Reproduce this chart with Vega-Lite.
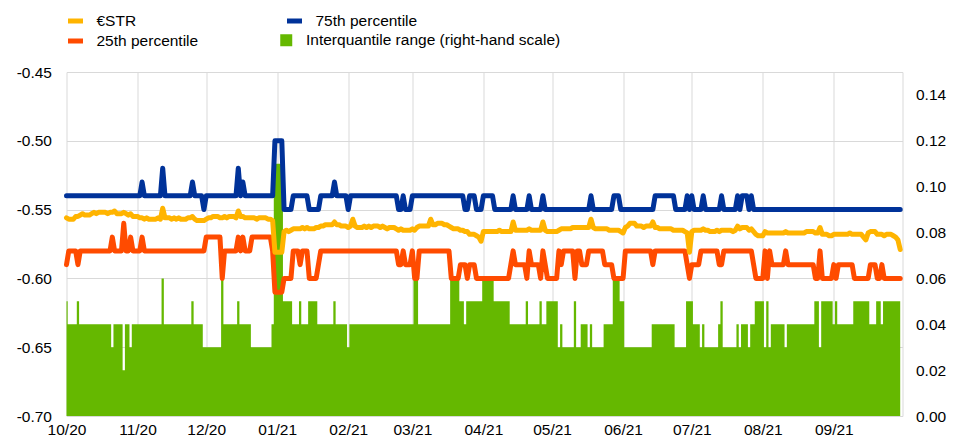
{
"$schema": "https://vega.github.io/schema/vega-lite/v6.json",
"width": 836, "height": 344,
"autosize": {"type": "none"},
"padding": {"left": 66.5, "top": 72, "right": 59.5, "bottom": 29},
"config": {"view": {"stroke": null}, "font": "Liberation Sans",
  "axis": {"labelFont": "Liberation Sans", "labelFontSize": 15.5, "labelColor": "#000000", "ticks": false, "domain": false, "title": null, "gridColor": "#d9d9d9", "gridWidth": 1},
  "legend": {"labelFont": "Liberation Sans", "labelFontSize": 15.5, "labelColor": "#000000", "labelLimit": 0, "padding": 0}},
"data": {"values": [
{"d":"2020-10-01","e":-0.556,"lo":-0.59,"hi":-0.54,"r":0.05},
{"d":"2020-10-02","e":-0.557,"lo":-0.58,"hi":-0.54,"r":0.04},
{"d":"2020-10-03","e":-0.557,"lo":-0.58,"hi":-0.54,"r":0.04},
{"d":"2020-10-04","e":-0.557,"lo":-0.58,"hi":-0.54,"r":0.04},
{"d":"2020-10-05","e":-0.555,"lo":-0.58,"hi":-0.54,"r":0.04},
{"d":"2020-10-06","e":-0.555,"lo":-0.59,"hi":-0.54,"r":0.05},
{"d":"2020-10-07","e":-0.554,"lo":-0.58,"hi":-0.54,"r":0.04},
{"d":"2020-10-08","e":-0.553,"lo":-0.58,"hi":-0.54,"r":0.04},
{"d":"2020-10-09","e":-0.554,"lo":-0.58,"hi":-0.54,"r":0.04},
{"d":"2020-10-10","e":-0.554,"lo":-0.58,"hi":-0.54,"r":0.04},
{"d":"2020-10-11","e":-0.554,"lo":-0.58,"hi":-0.54,"r":0.04},
{"d":"2020-10-12","e":-0.553,"lo":-0.58,"hi":-0.54,"r":0.04},
{"d":"2020-10-13","e":-0.552,"lo":-0.58,"hi":-0.54,"r":0.04},
{"d":"2020-10-14","e":-0.553,"lo":-0.58,"hi":-0.54,"r":0.04},
{"d":"2020-10-15","e":-0.552,"lo":-0.58,"hi":-0.54,"r":0.04},
{"d":"2020-10-16","e":-0.552,"lo":-0.58,"hi":-0.54,"r":0.04},
{"d":"2020-10-17","e":-0.552,"lo":-0.58,"hi":-0.54,"r":0.04},
{"d":"2020-10-18","e":-0.552,"lo":-0.58,"hi":-0.54,"r":0.04},
{"d":"2020-10-19","e":-0.553,"lo":-0.58,"hi":-0.54,"r":0.04},
{"d":"2020-10-20","e":-0.552,"lo":-0.58,"hi":-0.54,"r":0.04},
{"d":"2020-10-21","e":-0.552,"lo":-0.57,"hi":-0.54,"r":0.03},
{"d":"2020-10-22","e":-0.551,"lo":-0.58,"hi":-0.54,"r":0.04},
{"d":"2020-10-23","e":-0.553,"lo":-0.58,"hi":-0.54,"r":0.04},
{"d":"2020-10-24","e":-0.553,"lo":-0.58,"hi":-0.54,"r":0.04},
{"d":"2020-10-25","e":-0.553,"lo":-0.58,"hi":-0.54,"r":0.04},
{"d":"2020-10-26","e":-0.552,"lo":-0.56,"hi":-0.54,"r":0.02},
{"d":"2020-10-27","e":-0.553,"lo":-0.58,"hi":-0.54,"r":0.04},
{"d":"2020-10-28","e":-0.554,"lo":-0.58,"hi":-0.54,"r":0.04},
{"d":"2020-10-29","e":-0.553,"lo":-0.57,"hi":-0.54,"r":0.03},
{"d":"2020-10-30","e":-0.555,"lo":-0.58,"hi":-0.54,"r":0.04},
{"d":"2020-10-31","e":-0.555,"lo":-0.58,"hi":-0.54,"r":0.04},
{"d":"2020-11-01","e":-0.555,"lo":-0.58,"hi":-0.54,"r":0.04},
{"d":"2020-11-02","e":-0.556,"lo":-0.58,"hi":-0.54,"r":0.04},
{"d":"2020-11-03","e":-0.556,"lo":-0.57,"hi":-0.53,"r":0.04},
{"d":"2020-11-04","e":-0.557,"lo":-0.58,"hi":-0.54,"r":0.04},
{"d":"2020-11-05","e":-0.556,"lo":-0.58,"hi":-0.54,"r":0.04},
{"d":"2020-11-06","e":-0.557,"lo":-0.58,"hi":-0.54,"r":0.04},
{"d":"2020-11-07","e":-0.557,"lo":-0.58,"hi":-0.54,"r":0.04},
{"d":"2020-11-08","e":-0.557,"lo":-0.58,"hi":-0.54,"r":0.04},
{"d":"2020-11-09","e":-0.557,"lo":-0.58,"hi":-0.54,"r":0.04},
{"d":"2020-11-10","e":-0.556,"lo":-0.58,"hi":-0.54,"r":0.04},
{"d":"2020-11-11","e":-0.557,"lo":-0.58,"hi":-0.54,"r":0.04},
{"d":"2020-11-12","e":-0.549,"lo":-0.58,"hi":-0.52,"r":0.06},
{"d":"2020-11-13","e":-0.556,"lo":-0.58,"hi":-0.54,"r":0.04},
{"d":"2020-11-14","e":-0.556,"lo":-0.58,"hi":-0.54,"r":0.04},
{"d":"2020-11-15","e":-0.556,"lo":-0.58,"hi":-0.54,"r":0.04},
{"d":"2020-11-16","e":-0.557,"lo":-0.58,"hi":-0.54,"r":0.04},
{"d":"2020-11-17","e":-0.556,"lo":-0.58,"hi":-0.54,"r":0.04},
{"d":"2020-11-18","e":-0.557,"lo":-0.58,"hi":-0.54,"r":0.04},
{"d":"2020-11-19","e":-0.556,"lo":-0.58,"hi":-0.54,"r":0.04},
{"d":"2020-11-20","e":-0.557,"lo":-0.58,"hi":-0.54,"r":0.04},
{"d":"2020-11-21","e":-0.557,"lo":-0.58,"hi":-0.54,"r":0.04},
{"d":"2020-11-22","e":-0.557,"lo":-0.58,"hi":-0.54,"r":0.04},
{"d":"2020-11-23","e":-0.556,"lo":-0.58,"hi":-0.54,"r":0.04},
{"d":"2020-11-24","e":-0.556,"lo":-0.58,"hi":-0.54,"r":0.04},
{"d":"2020-11-25","e":-0.555,"lo":-0.58,"hi":-0.53,"r":0.05},
{"d":"2020-11-26","e":-0.557,"lo":-0.58,"hi":-0.54,"r":0.04},
{"d":"2020-11-27","e":-0.558,"lo":-0.58,"hi":-0.54,"r":0.04},
{"d":"2020-11-28","e":-0.558,"lo":-0.58,"hi":-0.54,"r":0.04},
{"d":"2020-11-29","e":-0.558,"lo":-0.58,"hi":-0.54,"r":0.04},
{"d":"2020-11-30","e":-0.558,"lo":-0.58,"hi":-0.55,"r":0.03},
{"d":"2020-12-01","e":-0.557,"lo":-0.57,"hi":-0.54,"r":0.03},
{"d":"2020-12-02","e":-0.556,"lo":-0.57,"hi":-0.54,"r":0.03},
{"d":"2020-12-03","e":-0.556,"lo":-0.57,"hi":-0.54,"r":0.03},
{"d":"2020-12-04","e":-0.555,"lo":-0.57,"hi":-0.54,"r":0.03},
{"d":"2020-12-05","e":-0.555,"lo":-0.57,"hi":-0.54,"r":0.03},
{"d":"2020-12-06","e":-0.555,"lo":-0.57,"hi":-0.54,"r":0.03},
{"d":"2020-12-07","e":-0.556,"lo":-0.57,"hi":-0.54,"r":0.03},
{"d":"2020-12-08","e":-0.556,"lo":-0.60,"hi":-0.54,"r":0.06},
{"d":"2020-12-09","e":-0.555,"lo":-0.58,"hi":-0.54,"r":0.04},
{"d":"2020-12-10","e":-0.556,"lo":-0.58,"hi":-0.54,"r":0.04},
{"d":"2020-12-11","e":-0.555,"lo":-0.58,"hi":-0.54,"r":0.04},
{"d":"2020-12-12","e":-0.555,"lo":-0.58,"hi":-0.54,"r":0.04},
{"d":"2020-12-13","e":-0.555,"lo":-0.58,"hi":-0.54,"r":0.04},
{"d":"2020-12-14","e":-0.556,"lo":-0.58,"hi":-0.54,"r":0.04},
{"d":"2020-12-15","e":-0.551,"lo":-0.57,"hi":-0.52,"r":0.05},
{"d":"2020-12-16","e":-0.555,"lo":-0.58,"hi":-0.54,"r":0.04},
{"d":"2020-12-17","e":-0.555,"lo":-0.57,"hi":-0.53,"r":0.04},
{"d":"2020-12-18","e":-0.556,"lo":-0.58,"hi":-0.54,"r":0.04},
{"d":"2020-12-19","e":-0.556,"lo":-0.58,"hi":-0.54,"r":0.04},
{"d":"2020-12-20","e":-0.556,"lo":-0.58,"hi":-0.54,"r":0.04},
{"d":"2020-12-21","e":-0.556,"lo":-0.57,"hi":-0.54,"r":0.03},
{"d":"2020-12-22","e":-0.556,"lo":-0.57,"hi":-0.54,"r":0.03},
{"d":"2020-12-23","e":-0.557,"lo":-0.57,"hi":-0.54,"r":0.03},
{"d":"2020-12-24","e":-0.556,"lo":-0.57,"hi":-0.54,"r":0.03},
{"d":"2020-12-25","e":-0.556,"lo":-0.57,"hi":-0.54,"r":0.03},
{"d":"2020-12-26","e":-0.556,"lo":-0.57,"hi":-0.54,"r":0.03},
{"d":"2020-12-27","e":-0.556,"lo":-0.57,"hi":-0.54,"r":0.03},
{"d":"2020-12-28","e":-0.557,"lo":-0.57,"hi":-0.54,"r":0.03},
{"d":"2020-12-29","e":-0.557,"lo":-0.57,"hi":-0.54,"r":0.03},
{"d":"2020-12-30","e":-0.558,"lo":-0.58,"hi":-0.54,"r":0.04},
{"d":"2020-12-31","e":-0.581,"lo":-0.61,"hi":-0.50,"r":0.11},
{"d":"2021-01-01","e":-0.581,"lo":-0.61,"hi":-0.50,"r":0.11},
{"d":"2021-01-02","e":-0.581,"lo":-0.61,"hi":-0.50,"r":0.11},
{"d":"2021-01-03","e":-0.581,"lo":-0.61,"hi":-0.50,"r":0.11},
{"d":"2021-01-04","e":-0.566,"lo":-0.60,"hi":-0.55,"r":0.05},
{"d":"2021-01-05","e":-0.565,"lo":-0.60,"hi":-0.55,"r":0.05},
{"d":"2021-01-06","e":-0.566,"lo":-0.60,"hi":-0.55,"r":0.05},
{"d":"2021-01-07","e":-0.565,"lo":-0.60,"hi":-0.55,"r":0.05},
{"d":"2021-01-08","e":-0.564,"lo":-0.58,"hi":-0.54,"r":0.04},
{"d":"2021-01-09","e":-0.564,"lo":-0.58,"hi":-0.54,"r":0.04},
{"d":"2021-01-10","e":-0.564,"lo":-0.58,"hi":-0.54,"r":0.04},
{"d":"2021-01-11","e":-0.564,"lo":-0.59,"hi":-0.54,"r":0.05},
{"d":"2021-01-12","e":-0.563,"lo":-0.58,"hi":-0.54,"r":0.04},
{"d":"2021-01-13","e":-0.564,"lo":-0.58,"hi":-0.54,"r":0.04},
{"d":"2021-01-14","e":-0.563,"lo":-0.58,"hi":-0.54,"r":0.04},
{"d":"2021-01-15","e":-0.564,"lo":-0.60,"hi":-0.55,"r":0.05},
{"d":"2021-01-16","e":-0.564,"lo":-0.60,"hi":-0.55,"r":0.05},
{"d":"2021-01-17","e":-0.564,"lo":-0.60,"hi":-0.55,"r":0.05},
{"d":"2021-01-18","e":-0.563,"lo":-0.60,"hi":-0.55,"r":0.05},
{"d":"2021-01-19","e":-0.563,"lo":-0.59,"hi":-0.55,"r":0.04},
{"d":"2021-01-20","e":-0.562,"lo":-0.58,"hi":-0.54,"r":0.04},
{"d":"2021-01-21","e":-0.562,"lo":-0.58,"hi":-0.54,"r":0.04},
{"d":"2021-01-22","e":-0.561,"lo":-0.58,"hi":-0.54,"r":0.04},
{"d":"2021-01-23","e":-0.561,"lo":-0.58,"hi":-0.54,"r":0.04},
{"d":"2021-01-24","e":-0.561,"lo":-0.58,"hi":-0.54,"r":0.04},
{"d":"2021-01-25","e":-0.561,"lo":-0.58,"hi":-0.54,"r":0.04},
{"d":"2021-01-26","e":-0.559,"lo":-0.58,"hi":-0.53,"r":0.05},
{"d":"2021-01-27","e":-0.561,"lo":-0.58,"hi":-0.54,"r":0.04},
{"d":"2021-01-28","e":-0.561,"lo":-0.58,"hi":-0.54,"r":0.04},
{"d":"2021-01-29","e":-0.562,"lo":-0.58,"hi":-0.54,"r":0.04},
{"d":"2021-01-30","e":-0.562,"lo":-0.58,"hi":-0.54,"r":0.04},
{"d":"2021-01-31","e":-0.562,"lo":-0.58,"hi":-0.54,"r":0.04},
{"d":"2021-02-01","e":-0.563,"lo":-0.58,"hi":-0.55,"r":0.03},
{"d":"2021-02-02","e":-0.562,"lo":-0.58,"hi":-0.54,"r":0.04},
{"d":"2021-02-03","e":-0.557,"lo":-0.58,"hi":-0.54,"r":0.04},
{"d":"2021-02-04","e":-0.562,"lo":-0.58,"hi":-0.54,"r":0.04},
{"d":"2021-02-05","e":-0.563,"lo":-0.58,"hi":-0.54,"r":0.04},
{"d":"2021-02-06","e":-0.563,"lo":-0.58,"hi":-0.54,"r":0.04},
{"d":"2021-02-07","e":-0.563,"lo":-0.58,"hi":-0.54,"r":0.04},
{"d":"2021-02-08","e":-0.562,"lo":-0.58,"hi":-0.54,"r":0.04},
{"d":"2021-02-09","e":-0.563,"lo":-0.58,"hi":-0.54,"r":0.04},
{"d":"2021-02-10","e":-0.562,"lo":-0.58,"hi":-0.54,"r":0.04},
{"d":"2021-02-11","e":-0.563,"lo":-0.58,"hi":-0.54,"r":0.04},
{"d":"2021-02-12","e":-0.562,"lo":-0.58,"hi":-0.54,"r":0.04},
{"d":"2021-02-13","e":-0.562,"lo":-0.58,"hi":-0.54,"r":0.04},
{"d":"2021-02-14","e":-0.562,"lo":-0.58,"hi":-0.54,"r":0.04},
{"d":"2021-02-15","e":-0.563,"lo":-0.58,"hi":-0.54,"r":0.04},
{"d":"2021-02-16","e":-0.562,"lo":-0.58,"hi":-0.54,"r":0.04},
{"d":"2021-02-17","e":-0.563,"lo":-0.58,"hi":-0.54,"r":0.04},
{"d":"2021-02-18","e":-0.564,"lo":-0.58,"hi":-0.54,"r":0.04},
{"d":"2021-02-19","e":-0.563,"lo":-0.58,"hi":-0.54,"r":0.04},
{"d":"2021-02-20","e":-0.563,"lo":-0.58,"hi":-0.54,"r":0.04},
{"d":"2021-02-21","e":-0.563,"lo":-0.58,"hi":-0.54,"r":0.04},
{"d":"2021-02-22","e":-0.564,"lo":-0.58,"hi":-0.54,"r":0.04},
{"d":"2021-02-23","e":-0.565,"lo":-0.59,"hi":-0.55,"r":0.04},
{"d":"2021-02-24","e":-0.564,"lo":-0.59,"hi":-0.55,"r":0.04},
{"d":"2021-02-25","e":-0.565,"lo":-0.58,"hi":-0.54,"r":0.04},
{"d":"2021-02-26","e":-0.565,"lo":-0.59,"hi":-0.55,"r":0.04},
{"d":"2021-02-27","e":-0.565,"lo":-0.59,"hi":-0.55,"r":0.04},
{"d":"2021-02-28","e":-0.565,"lo":-0.59,"hi":-0.55,"r":0.04},
{"d":"2021-03-01","e":-0.564,"lo":-0.58,"hi":-0.54,"r":0.04},
{"d":"2021-03-02","e":-0.565,"lo":-0.60,"hi":-0.54,"r":0.06},
{"d":"2021-03-03","e":-0.563,"lo":-0.60,"hi":-0.54,"r":0.06},
{"d":"2021-03-04","e":-0.562,"lo":-0.58,"hi":-0.54,"r":0.04},
{"d":"2021-03-05","e":-0.562,"lo":-0.58,"hi":-0.54,"r":0.04},
{"d":"2021-03-06","e":-0.562,"lo":-0.58,"hi":-0.54,"r":0.04},
{"d":"2021-03-07","e":-0.562,"lo":-0.58,"hi":-0.54,"r":0.04},
{"d":"2021-03-08","e":-0.562,"lo":-0.58,"hi":-0.54,"r":0.04},
{"d":"2021-03-09","e":-0.557,"lo":-0.58,"hi":-0.54,"r":0.04},
{"d":"2021-03-10","e":-0.561,"lo":-0.58,"hi":-0.54,"r":0.04},
{"d":"2021-03-11","e":-0.561,"lo":-0.58,"hi":-0.54,"r":0.04},
{"d":"2021-03-12","e":-0.560,"lo":-0.58,"hi":-0.54,"r":0.04},
{"d":"2021-03-13","e":-0.560,"lo":-0.58,"hi":-0.54,"r":0.04},
{"d":"2021-03-14","e":-0.560,"lo":-0.58,"hi":-0.54,"r":0.04},
{"d":"2021-03-15","e":-0.561,"lo":-0.58,"hi":-0.54,"r":0.04},
{"d":"2021-03-16","e":-0.561,"lo":-0.58,"hi":-0.54,"r":0.04},
{"d":"2021-03-17","e":-0.562,"lo":-0.58,"hi":-0.54,"r":0.04},
{"d":"2021-03-18","e":-0.563,"lo":-0.60,"hi":-0.54,"r":0.06},
{"d":"2021-03-19","e":-0.564,"lo":-0.60,"hi":-0.54,"r":0.06},
{"d":"2021-03-20","e":-0.564,"lo":-0.60,"hi":-0.54,"r":0.06},
{"d":"2021-03-21","e":-0.564,"lo":-0.60,"hi":-0.54,"r":0.06},
{"d":"2021-03-22","e":-0.565,"lo":-0.59,"hi":-0.54,"r":0.05},
{"d":"2021-03-23","e":-0.565,"lo":-0.59,"hi":-0.54,"r":0.05},
{"d":"2021-03-24","e":-0.566,"lo":-0.59,"hi":-0.55,"r":0.04},
{"d":"2021-03-25","e":-0.566,"lo":-0.60,"hi":-0.55,"r":0.05},
{"d":"2021-03-26","e":-0.568,"lo":-0.59,"hi":-0.54,"r":0.05},
{"d":"2021-03-27","e":-0.568,"lo":-0.59,"hi":-0.54,"r":0.05},
{"d":"2021-03-28","e":-0.568,"lo":-0.59,"hi":-0.54,"r":0.05},
{"d":"2021-03-29","e":-0.569,"lo":-0.60,"hi":-0.55,"r":0.05},
{"d":"2021-03-30","e":-0.570,"lo":-0.60,"hi":-0.55,"r":0.05},
{"d":"2021-03-31","e":-0.573,"lo":-0.60,"hi":-0.55,"r":0.05},
{"d":"2021-04-01","e":-0.566,"lo":-0.60,"hi":-0.54,"r":0.06},
{"d":"2021-04-02","e":-0.566,"lo":-0.60,"hi":-0.54,"r":0.06},
{"d":"2021-04-03","e":-0.566,"lo":-0.60,"hi":-0.54,"r":0.06},
{"d":"2021-04-04","e":-0.566,"lo":-0.60,"hi":-0.54,"r":0.06},
{"d":"2021-04-05","e":-0.566,"lo":-0.60,"hi":-0.54,"r":0.06},
{"d":"2021-04-06","e":-0.566,"lo":-0.60,"hi":-0.55,"r":0.05},
{"d":"2021-04-07","e":-0.566,"lo":-0.60,"hi":-0.55,"r":0.05},
{"d":"2021-04-08","e":-0.565,"lo":-0.60,"hi":-0.55,"r":0.05},
{"d":"2021-04-09","e":-0.566,"lo":-0.60,"hi":-0.55,"r":0.05},
{"d":"2021-04-10","e":-0.566,"lo":-0.60,"hi":-0.55,"r":0.05},
{"d":"2021-04-11","e":-0.566,"lo":-0.60,"hi":-0.55,"r":0.05},
{"d":"2021-04-12","e":-0.566,"lo":-0.60,"hi":-0.55,"r":0.05},
{"d":"2021-04-13","e":-0.566,"lo":-0.59,"hi":-0.55,"r":0.04},
{"d":"2021-04-14","e":-0.559,"lo":-0.58,"hi":-0.54,"r":0.04},
{"d":"2021-04-15","e":-0.565,"lo":-0.59,"hi":-0.55,"r":0.04},
{"d":"2021-04-16","e":-0.565,"lo":-0.59,"hi":-0.55,"r":0.04},
{"d":"2021-04-17","e":-0.565,"lo":-0.59,"hi":-0.55,"r":0.04},
{"d":"2021-04-18","e":-0.565,"lo":-0.59,"hi":-0.55,"r":0.04},
{"d":"2021-04-19","e":-0.565,"lo":-0.59,"hi":-0.55,"r":0.04},
{"d":"2021-04-20","e":-0.565,"lo":-0.60,"hi":-0.55,"r":0.05},
{"d":"2021-04-21","e":-0.564,"lo":-0.58,"hi":-0.54,"r":0.04},
{"d":"2021-04-22","e":-0.565,"lo":-0.59,"hi":-0.55,"r":0.04},
{"d":"2021-04-23","e":-0.565,"lo":-0.59,"hi":-0.55,"r":0.04},
{"d":"2021-04-24","e":-0.565,"lo":-0.59,"hi":-0.55,"r":0.04},
{"d":"2021-04-25","e":-0.565,"lo":-0.59,"hi":-0.55,"r":0.04},
{"d":"2021-04-26","e":-0.565,"lo":-0.60,"hi":-0.55,"r":0.05},
{"d":"2021-04-27","e":-0.559,"lo":-0.58,"hi":-0.54,"r":0.04},
{"d":"2021-04-28","e":-0.565,"lo":-0.59,"hi":-0.55,"r":0.04},
{"d":"2021-04-29","e":-0.566,"lo":-0.60,"hi":-0.55,"r":0.05},
{"d":"2021-04-30","e":-0.566,"lo":-0.60,"hi":-0.55,"r":0.05},
{"d":"2021-05-01","e":-0.566,"lo":-0.60,"hi":-0.55,"r":0.05},
{"d":"2021-05-02","e":-0.566,"lo":-0.60,"hi":-0.55,"r":0.05},
{"d":"2021-05-03","e":-0.566,"lo":-0.60,"hi":-0.55,"r":0.05},
{"d":"2021-05-04","e":-0.565,"lo":-0.58,"hi":-0.55,"r":0.03},
{"d":"2021-05-05","e":-0.564,"lo":-0.59,"hi":-0.55,"r":0.04},
{"d":"2021-05-06","e":-0.564,"lo":-0.58,"hi":-0.55,"r":0.03},
{"d":"2021-05-07","e":-0.564,"lo":-0.58,"hi":-0.55,"r":0.03},
{"d":"2021-05-08","e":-0.564,"lo":-0.58,"hi":-0.55,"r":0.03},
{"d":"2021-05-09","e":-0.564,"lo":-0.58,"hi":-0.55,"r":0.03},
{"d":"2021-05-10","e":-0.563,"lo":-0.58,"hi":-0.55,"r":0.03},
{"d":"2021-05-11","e":-0.563,"lo":-0.60,"hi":-0.55,"r":0.05},
{"d":"2021-05-12","e":-0.563,"lo":-0.58,"hi":-0.55,"r":0.03},
{"d":"2021-05-13","e":-0.563,"lo":-0.58,"hi":-0.55,"r":0.03},
{"d":"2021-05-14","e":-0.563,"lo":-0.59,"hi":-0.55,"r":0.04},
{"d":"2021-05-15","e":-0.563,"lo":-0.59,"hi":-0.55,"r":0.04},
{"d":"2021-05-16","e":-0.563,"lo":-0.59,"hi":-0.55,"r":0.04},
{"d":"2021-05-17","e":-0.563,"lo":-0.58,"hi":-0.55,"r":0.03},
{"d":"2021-05-18","e":-0.557,"lo":-0.58,"hi":-0.54,"r":0.04},
{"d":"2021-05-19","e":-0.563,"lo":-0.58,"hi":-0.55,"r":0.03},
{"d":"2021-05-20","e":-0.564,"lo":-0.58,"hi":-0.55,"r":0.03},
{"d":"2021-05-21","e":-0.564,"lo":-0.58,"hi":-0.55,"r":0.03},
{"d":"2021-05-22","e":-0.564,"lo":-0.58,"hi":-0.55,"r":0.03},
{"d":"2021-05-23","e":-0.564,"lo":-0.58,"hi":-0.55,"r":0.03},
{"d":"2021-05-24","e":-0.564,"lo":-0.59,"hi":-0.55,"r":0.04},
{"d":"2021-05-25","e":-0.564,"lo":-0.59,"hi":-0.55,"r":0.04},
{"d":"2021-05-26","e":-0.565,"lo":-0.59,"hi":-0.55,"r":0.04},
{"d":"2021-05-27","e":-0.565,"lo":-0.59,"hi":-0.55,"r":0.04},
{"d":"2021-05-28","e":-0.565,"lo":-0.60,"hi":-0.54,"r":0.06},
{"d":"2021-05-29","e":-0.565,"lo":-0.60,"hi":-0.54,"r":0.06},
{"d":"2021-05-30","e":-0.565,"lo":-0.60,"hi":-0.54,"r":0.06},
{"d":"2021-05-31","e":-0.566,"lo":-0.60,"hi":-0.55,"r":0.05},
{"d":"2021-06-01","e":-0.567,"lo":-0.60,"hi":-0.55,"r":0.05},
{"d":"2021-06-02","e":-0.563,"lo":-0.58,"hi":-0.55,"r":0.03},
{"d":"2021-06-03","e":-0.562,"lo":-0.58,"hi":-0.55,"r":0.03},
{"d":"2021-06-04","e":-0.560,"lo":-0.58,"hi":-0.55,"r":0.03},
{"d":"2021-06-05","e":-0.560,"lo":-0.58,"hi":-0.55,"r":0.03},
{"d":"2021-06-06","e":-0.560,"lo":-0.58,"hi":-0.55,"r":0.03},
{"d":"2021-06-07","e":-0.562,"lo":-0.58,"hi":-0.55,"r":0.03},
{"d":"2021-06-08","e":-0.562,"lo":-0.58,"hi":-0.55,"r":0.03},
{"d":"2021-06-09","e":-0.562,"lo":-0.58,"hi":-0.55,"r":0.03},
{"d":"2021-06-10","e":-0.563,"lo":-0.58,"hi":-0.55,"r":0.03},
{"d":"2021-06-11","e":-0.562,"lo":-0.58,"hi":-0.55,"r":0.03},
{"d":"2021-06-12","e":-0.562,"lo":-0.58,"hi":-0.55,"r":0.03},
{"d":"2021-06-13","e":-0.562,"lo":-0.58,"hi":-0.55,"r":0.03},
{"d":"2021-06-14","e":-0.559,"lo":-0.59,"hi":-0.55,"r":0.04},
{"d":"2021-06-15","e":-0.563,"lo":-0.58,"hi":-0.54,"r":0.04},
{"d":"2021-06-16","e":-0.563,"lo":-0.58,"hi":-0.54,"r":0.04},
{"d":"2021-06-17","e":-0.564,"lo":-0.58,"hi":-0.54,"r":0.04},
{"d":"2021-06-18","e":-0.564,"lo":-0.58,"hi":-0.54,"r":0.04},
{"d":"2021-06-19","e":-0.564,"lo":-0.58,"hi":-0.54,"r":0.04},
{"d":"2021-06-20","e":-0.564,"lo":-0.58,"hi":-0.54,"r":0.04},
{"d":"2021-06-21","e":-0.564,"lo":-0.58,"hi":-0.54,"r":0.04},
{"d":"2021-06-22","e":-0.564,"lo":-0.58,"hi":-0.54,"r":0.04},
{"d":"2021-06-23","e":-0.565,"lo":-0.58,"hi":-0.54,"r":0.04},
{"d":"2021-06-24","e":-0.565,"lo":-0.58,"hi":-0.55,"r":0.03},
{"d":"2021-06-25","e":-0.565,"lo":-0.58,"hi":-0.55,"r":0.03},
{"d":"2021-06-26","e":-0.565,"lo":-0.58,"hi":-0.55,"r":0.03},
{"d":"2021-06-27","e":-0.565,"lo":-0.58,"hi":-0.55,"r":0.03},
{"d":"2021-06-28","e":-0.566,"lo":-0.58,"hi":-0.55,"r":0.03},
{"d":"2021-06-29","e":-0.567,"lo":-0.59,"hi":-0.54,"r":0.05},
{"d":"2021-06-30","e":-0.581,"lo":-0.60,"hi":-0.55,"r":0.05},
{"d":"2021-07-01","e":-0.566,"lo":-0.59,"hi":-0.54,"r":0.05},
{"d":"2021-07-02","e":-0.565,"lo":-0.59,"hi":-0.55,"r":0.04},
{"d":"2021-07-03","e":-0.565,"lo":-0.59,"hi":-0.55,"r":0.04},
{"d":"2021-07-04","e":-0.565,"lo":-0.59,"hi":-0.55,"r":0.04},
{"d":"2021-07-05","e":-0.565,"lo":-0.58,"hi":-0.55,"r":0.03},
{"d":"2021-07-06","e":-0.564,"lo":-0.58,"hi":-0.54,"r":0.04},
{"d":"2021-07-07","e":-0.565,"lo":-0.58,"hi":-0.55,"r":0.03},
{"d":"2021-07-08","e":-0.565,"lo":-0.58,"hi":-0.55,"r":0.03},
{"d":"2021-07-09","e":-0.566,"lo":-0.58,"hi":-0.55,"r":0.03},
{"d":"2021-07-10","e":-0.566,"lo":-0.58,"hi":-0.55,"r":0.03},
{"d":"2021-07-11","e":-0.566,"lo":-0.58,"hi":-0.55,"r":0.03},
{"d":"2021-07-12","e":-0.565,"lo":-0.58,"hi":-0.55,"r":0.03},
{"d":"2021-07-13","e":-0.566,"lo":-0.59,"hi":-0.55,"r":0.04},
{"d":"2021-07-14","e":-0.565,"lo":-0.59,"hi":-0.54,"r":0.05},
{"d":"2021-07-15","e":-0.565,"lo":-0.58,"hi":-0.55,"r":0.03},
{"d":"2021-07-16","e":-0.565,"lo":-0.58,"hi":-0.55,"r":0.03},
{"d":"2021-07-17","e":-0.565,"lo":-0.58,"hi":-0.55,"r":0.03},
{"d":"2021-07-18","e":-0.565,"lo":-0.58,"hi":-0.55,"r":0.03},
{"d":"2021-07-19","e":-0.566,"lo":-0.58,"hi":-0.55,"r":0.03},
{"d":"2021-07-20","e":-0.565,"lo":-0.58,"hi":-0.55,"r":0.03},
{"d":"2021-07-21","e":-0.562,"lo":-0.58,"hi":-0.54,"r":0.04},
{"d":"2021-07-22","e":-0.564,"lo":-0.58,"hi":-0.55,"r":0.03},
{"d":"2021-07-23","e":-0.563,"lo":-0.58,"hi":-0.54,"r":0.04},
{"d":"2021-07-24","e":-0.563,"lo":-0.58,"hi":-0.54,"r":0.04},
{"d":"2021-07-25","e":-0.563,"lo":-0.58,"hi":-0.54,"r":0.04},
{"d":"2021-07-26","e":-0.565,"lo":-0.58,"hi":-0.55,"r":0.03},
{"d":"2021-07-27","e":-0.564,"lo":-0.58,"hi":-0.54,"r":0.04},
{"d":"2021-07-28","e":-0.566,"lo":-0.59,"hi":-0.55,"r":0.04},
{"d":"2021-07-29","e":-0.568,"lo":-0.60,"hi":-0.55,"r":0.05},
{"d":"2021-07-30","e":-0.569,"lo":-0.60,"hi":-0.55,"r":0.05},
{"d":"2021-07-31","e":-0.569,"lo":-0.60,"hi":-0.55,"r":0.05},
{"d":"2021-08-01","e":-0.569,"lo":-0.60,"hi":-0.55,"r":0.05},
{"d":"2021-08-02","e":-0.566,"lo":-0.58,"hi":-0.55,"r":0.03},
{"d":"2021-08-03","e":-0.567,"lo":-0.60,"hi":-0.55,"r":0.05},
{"d":"2021-08-04","e":-0.567,"lo":-0.58,"hi":-0.55,"r":0.03},
{"d":"2021-08-05","e":-0.567,"lo":-0.59,"hi":-0.55,"r":0.04},
{"d":"2021-08-06","e":-0.567,"lo":-0.59,"hi":-0.55,"r":0.04},
{"d":"2021-08-07","e":-0.567,"lo":-0.59,"hi":-0.55,"r":0.04},
{"d":"2021-08-08","e":-0.567,"lo":-0.59,"hi":-0.55,"r":0.04},
{"d":"2021-08-09","e":-0.567,"lo":-0.59,"hi":-0.55,"r":0.04},
{"d":"2021-08-10","e":-0.567,"lo":-0.59,"hi":-0.55,"r":0.04},
{"d":"2021-08-11","e":-0.566,"lo":-0.58,"hi":-0.55,"r":0.03},
{"d":"2021-08-12","e":-0.567,"lo":-0.59,"hi":-0.55,"r":0.04},
{"d":"2021-08-13","e":-0.567,"lo":-0.59,"hi":-0.55,"r":0.04},
{"d":"2021-08-14","e":-0.567,"lo":-0.59,"hi":-0.55,"r":0.04},
{"d":"2021-08-15","e":-0.567,"lo":-0.59,"hi":-0.55,"r":0.04},
{"d":"2021-08-16","e":-0.567,"lo":-0.59,"hi":-0.55,"r":0.04},
{"d":"2021-08-17","e":-0.567,"lo":-0.59,"hi":-0.55,"r":0.04},
{"d":"2021-08-18","e":-0.567,"lo":-0.59,"hi":-0.55,"r":0.04},
{"d":"2021-08-19","e":-0.567,"lo":-0.59,"hi":-0.55,"r":0.04},
{"d":"2021-08-20","e":-0.566,"lo":-0.59,"hi":-0.55,"r":0.04},
{"d":"2021-08-21","e":-0.566,"lo":-0.59,"hi":-0.55,"r":0.04},
{"d":"2021-08-22","e":-0.566,"lo":-0.59,"hi":-0.55,"r":0.04},
{"d":"2021-08-23","e":-0.566,"lo":-0.59,"hi":-0.55,"r":0.04},
{"d":"2021-08-24","e":-0.567,"lo":-0.60,"hi":-0.55,"r":0.05},
{"d":"2021-08-25","e":-0.567,"lo":-0.60,"hi":-0.55,"r":0.05},
{"d":"2021-08-26","e":-0.563,"lo":-0.58,"hi":-0.55,"r":0.03},
{"d":"2021-08-27","e":-0.568,"lo":-0.60,"hi":-0.55,"r":0.05},
{"d":"2021-08-28","e":-0.568,"lo":-0.60,"hi":-0.55,"r":0.05},
{"d":"2021-08-29","e":-0.568,"lo":-0.60,"hi":-0.55,"r":0.05},
{"d":"2021-08-30","e":-0.569,"lo":-0.60,"hi":-0.55,"r":0.05},
{"d":"2021-08-31","e":-0.569,"lo":-0.60,"hi":-0.55,"r":0.05},
{"d":"2021-09-01","e":-0.568,"lo":-0.59,"hi":-0.55,"r":0.04},
{"d":"2021-09-02","e":-0.568,"lo":-0.60,"hi":-0.55,"r":0.05},
{"d":"2021-09-03","e":-0.568,"lo":-0.59,"hi":-0.55,"r":0.04},
{"d":"2021-09-04","e":-0.568,"lo":-0.59,"hi":-0.55,"r":0.04},
{"d":"2021-09-05","e":-0.568,"lo":-0.59,"hi":-0.55,"r":0.04},
{"d":"2021-09-06","e":-0.568,"lo":-0.59,"hi":-0.55,"r":0.04},
{"d":"2021-09-07","e":-0.568,"lo":-0.59,"hi":-0.55,"r":0.04},
{"d":"2021-09-08","e":-0.567,"lo":-0.59,"hi":-0.55,"r":0.04},
{"d":"2021-09-09","e":-0.568,"lo":-0.59,"hi":-0.55,"r":0.04},
{"d":"2021-09-10","e":-0.568,"lo":-0.60,"hi":-0.55,"r":0.05},
{"d":"2021-09-11","e":-0.568,"lo":-0.60,"hi":-0.55,"r":0.05},
{"d":"2021-09-12","e":-0.568,"lo":-0.60,"hi":-0.55,"r":0.05},
{"d":"2021-09-13","e":-0.568,"lo":-0.60,"hi":-0.55,"r":0.05},
{"d":"2021-09-14","e":-0.570,"lo":-0.60,"hi":-0.55,"r":0.05},
{"d":"2021-09-15","e":-0.572,"lo":-0.60,"hi":-0.55,"r":0.05},
{"d":"2021-09-16","e":-0.567,"lo":-0.60,"hi":-0.55,"r":0.05},
{"d":"2021-09-17","e":-0.566,"lo":-0.59,"hi":-0.55,"r":0.04},
{"d":"2021-09-18","e":-0.566,"lo":-0.59,"hi":-0.55,"r":0.04},
{"d":"2021-09-19","e":-0.566,"lo":-0.59,"hi":-0.55,"r":0.04},
{"d":"2021-09-20","e":-0.568,"lo":-0.60,"hi":-0.55,"r":0.05},
{"d":"2021-09-21","e":-0.568,"lo":-0.60,"hi":-0.55,"r":0.05},
{"d":"2021-09-22","e":-0.568,"lo":-0.59,"hi":-0.55,"r":0.04},
{"d":"2021-09-23","e":-0.569,"lo":-0.60,"hi":-0.55,"r":0.05},
{"d":"2021-09-24","e":-0.568,"lo":-0.60,"hi":-0.55,"r":0.05},
{"d":"2021-09-25","e":-0.568,"lo":-0.60,"hi":-0.55,"r":0.05},
{"d":"2021-09-26","e":-0.568,"lo":-0.60,"hi":-0.55,"r":0.05},
{"d":"2021-09-27","e":-0.569,"lo":-0.60,"hi":-0.55,"r":0.05},
{"d":"2021-09-28","e":-0.570,"lo":-0.60,"hi":-0.55,"r":0.05},
{"d":"2021-09-29","e":-0.572,"lo":-0.60,"hi":-0.55,"r":0.05},
{"d":"2021-09-30","e":-0.579,"lo":-0.60,"hi":-0.55,"r":0.05}
]},
"layer": [
  {
    "mark": {"type": "area", "interpolate": "step", "opacity": 1},
    "encoding": {
      "x": {"field": "d", "type": "temporal", "title": null,
        "scale": {"type": "utc", "domain": [{"year": 2020, "month": 10, "date": 1, "utc": true}, {"year": 2021, "month": 10, "date": 1, "utc": true}]},
        "axis": {"grid": true, "labelFlush": false, "labelOverlap": false, "labelPadding": 6,
          "values": [
            {"year": 2020, "month": 10, "date": 1, "utc": true},
            {"year": 2020, "month": 11, "date": 1, "utc": true},
            {"year": 2020, "month": 12, "date": 1, "utc": true},
            {"year": 2021, "month": 1, "date": 1, "utc": true},
            {"year": 2021, "month": 2, "date": 1, "utc": true},
            {"year": 2021, "month": 3, "date": 1, "utc": true},
            {"year": 2021, "month": 4, "date": 1, "utc": true},
            {"year": 2021, "month": 5, "date": 1, "utc": true},
            {"year": 2021, "month": 6, "date": 1, "utc": true},
            {"year": 2021, "month": 7, "date": 1, "utc": true},
            {"year": 2021, "month": 8, "date": 1, "utc": true},
            {"year": 2021, "month": 9, "date": 1, "utc": true},
            {"year": 2021, "month": 10, "date": 1, "utc": true}],
          "labelExpr": "datum.index >= 0.999 ? '' : utcFormat(datum.value, '%m/%y')"}},
      "y": {"field": "r", "type": "quantitative", "title": null,
        "scale": {"domain": [0, 0.15], "nice": false, "zero": true},
        "axis": {"orient": "right", "values": [0, 0.02, 0.04, 0.06, 0.08, 0.1, 0.12, 0.14], "format": ".2f", "grid": false, "labelPadding": 13}},
      "fill": {"datum": "Interquantile range (right-hand scale)",
        "scale": {"domain": ["Interquantile range (right-hand scale)"], "range": ["#65B800"]},
        "legend": {"title": null, "orient": "none", "legendX": 212, "legendY": -39.5, "symbolType": "square", "symbolSize": 144, "symbolStrokeWidth": 0, "symbolOpacity": 1, "labelOffset": 12}}
    }
  },
  {
    "layer": [
      {"mark": {"type": "line", "strokeWidth": 5, "strokeJoin": "round", "strokeCap": "round"},
       "encoding": {
         "x": {"field": "d", "type": "temporal", "title": null},
         "y": {"field": "hi", "type": "quantitative", "title": null,
           "scale": {"domain": [-0.70, -0.45], "nice": false, "zero": false},
           "axis": {"orient": "left", "values": [-0.70, -0.65, -0.60, -0.55, -0.50, -0.45], "grid": true, "labelPadding": 15,
             "labelExpr": "replace(format(datum.value, '.2f'), '\u2212', '-')"}},
         "stroke": {"datum": "75th percentile",
           "scale": {"domain": ["€STR", "75th percentile", "25th percentile"], "range": ["#FFB400", "#003299", "#FF4B00"]},
           "legend": {"title": null, "orient": "none", "legendX": -1, "legendY": -61, "direction": "horizontal", "columns": 2, "columnPadding": 78, "rowPadding": -0.5,
             "symbolType": "stroke", "symbolSize": 225, "symbolStrokeWidth": 5, "labelOffset": 11}}}},
      {"mark": {"type": "line", "strokeWidth": 5, "strokeJoin": "round", "strokeCap": "round"},
       "encoding": {
         "x": {"field": "d", "type": "temporal", "title": null},
         "y": {"field": "lo", "type": "quantitative", "title": null},
         "stroke": {"datum": "25th percentile"}}},
      {"mark": {"type": "line", "strokeWidth": 5, "strokeJoin": "round", "strokeCap": "round"},
       "encoding": {
         "x": {"field": "d", "type": "temporal", "title": null},
         "y": {"field": "e", "type": "quantitative", "title": null},
         "stroke": {"datum": "€STR"}}}
    ]
  }
],
"resolve": {"scale": {"y": "independent"}}
}
